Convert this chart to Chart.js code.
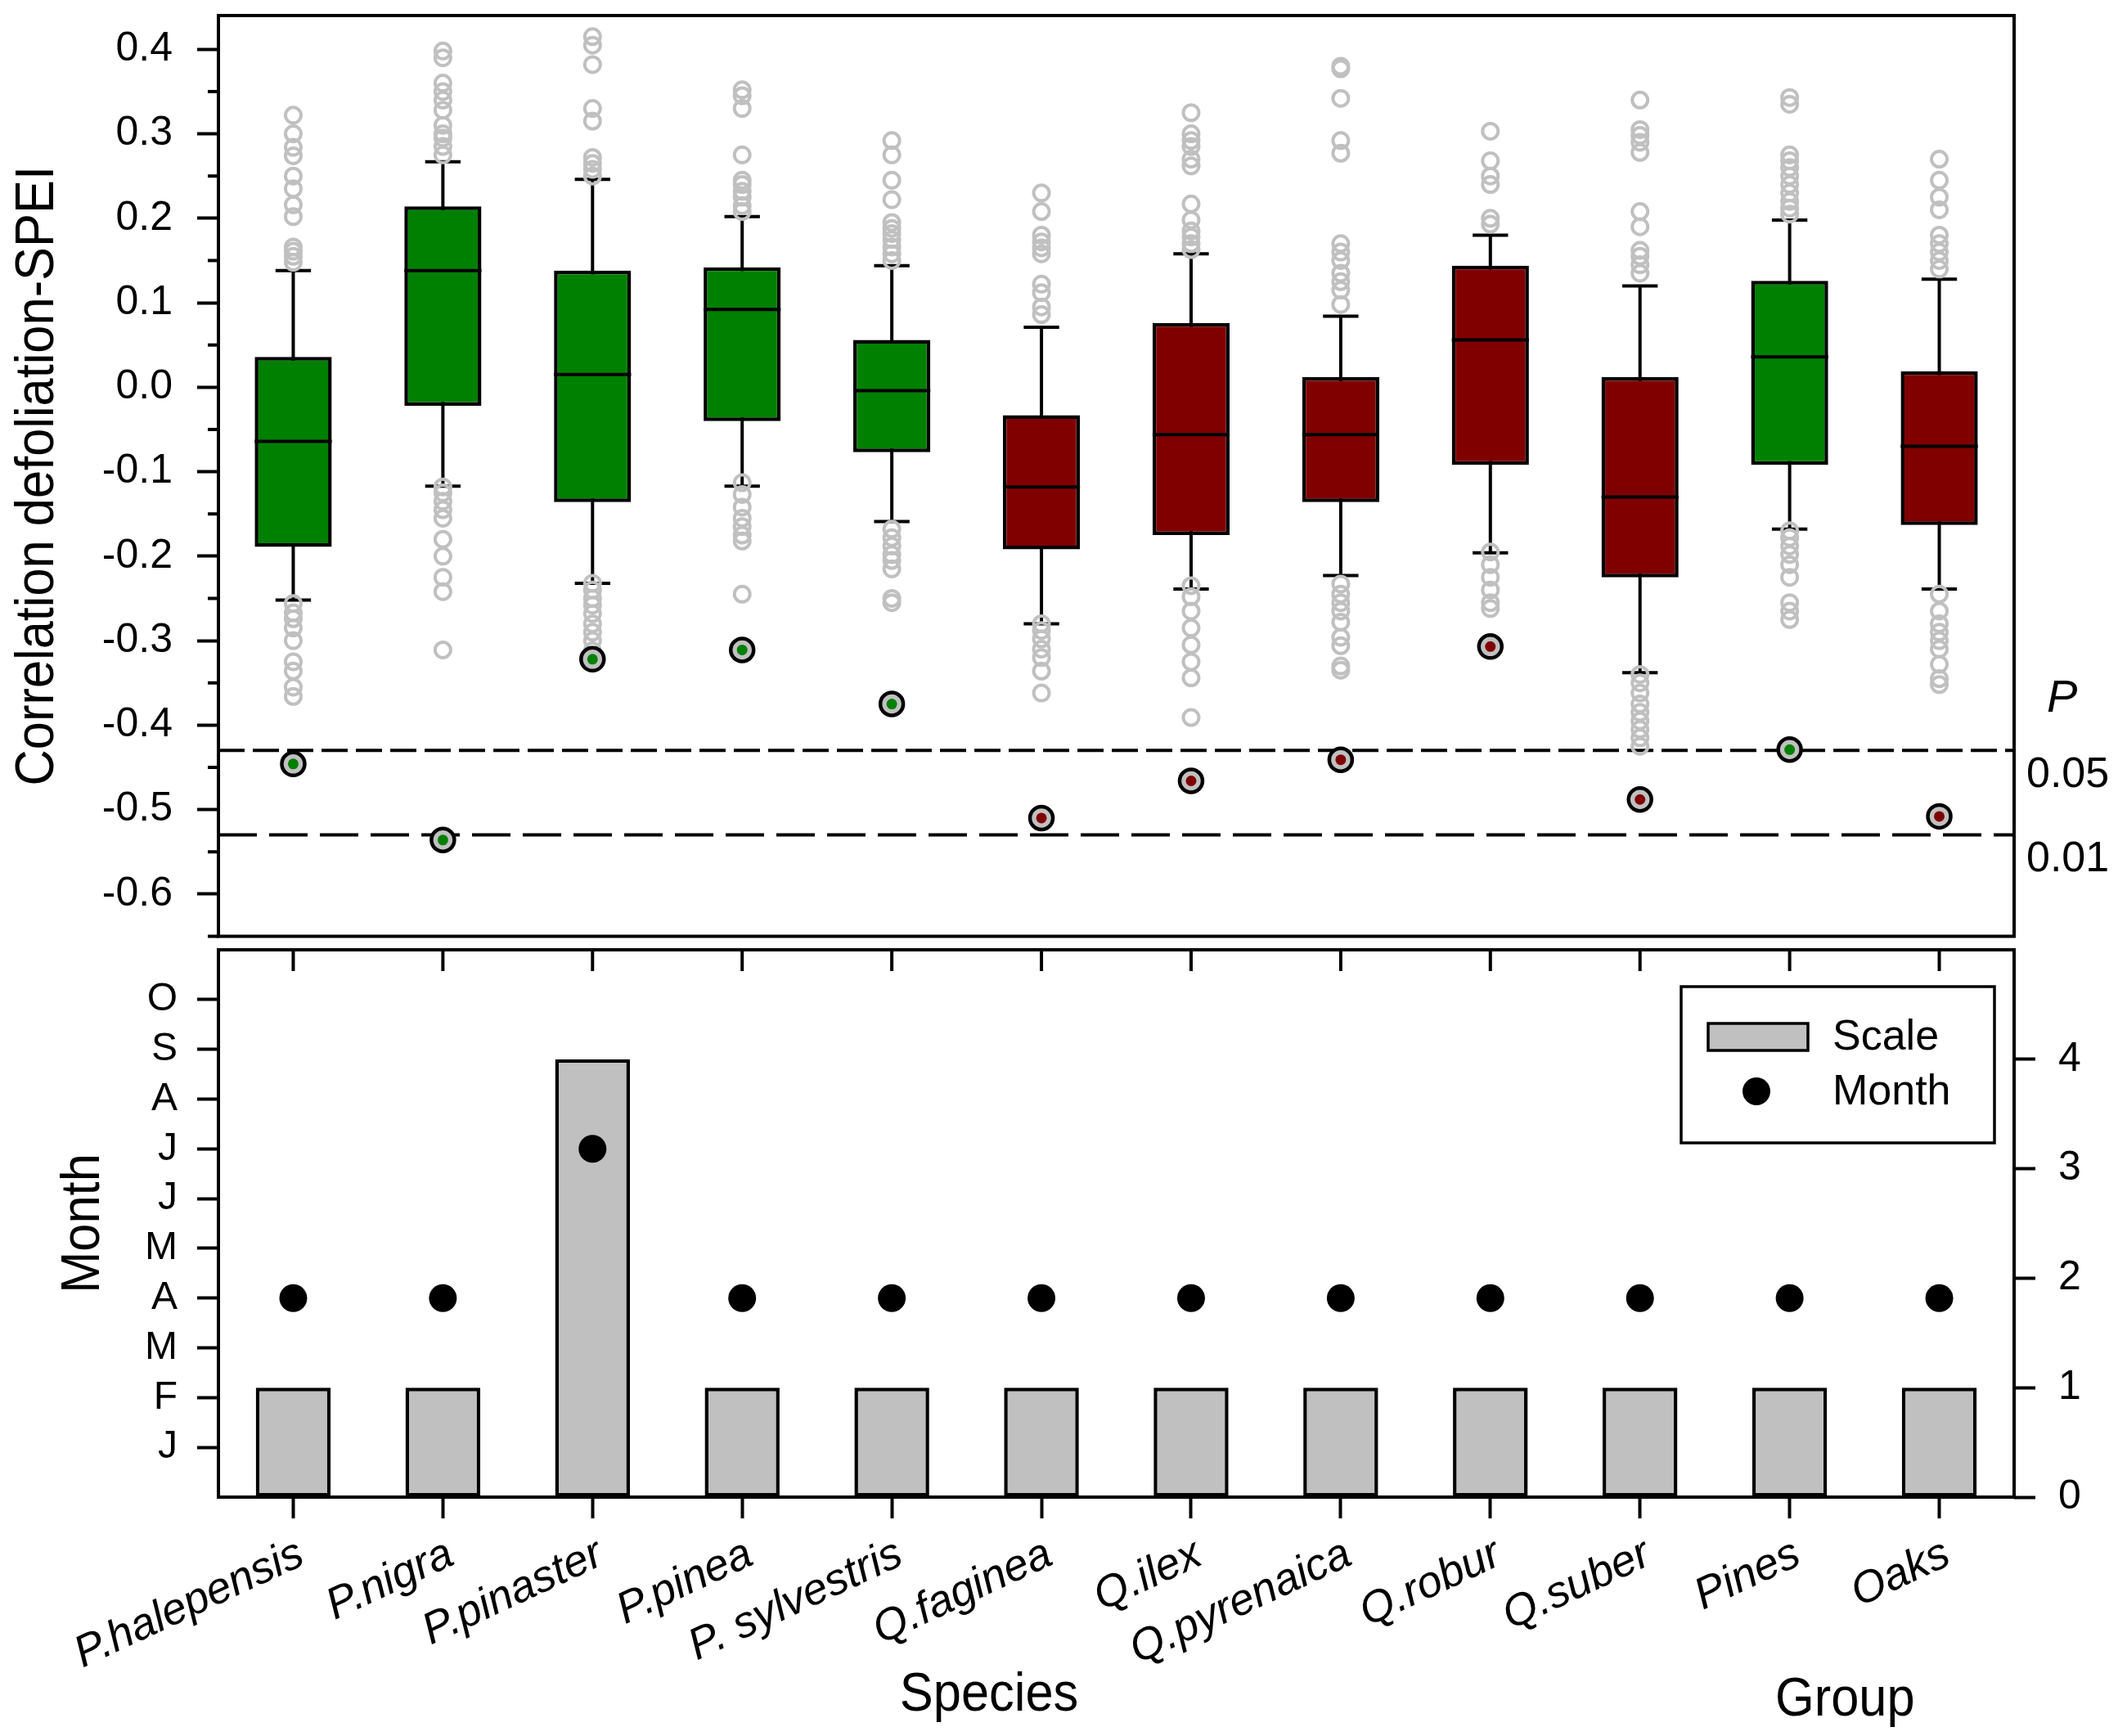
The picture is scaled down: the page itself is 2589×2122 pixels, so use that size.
<!DOCTYPE html>
<html>
<head>
<meta charset="utf-8">
<script src="https://cdn.jsdelivr.net/npm/chart.js"></script>
<style>
  html, body { margin: 0; padding: 0; background: #fff; overflow: hidden; }
  #wrap { position: relative; width: 2589px; height: 2122px; background: #fff; }
  canvas { position: absolute; left: 0; }
  #topChart { top: 0; }
  #bottomChart { top: 1140px; }
</style>
</head>
<body>
<div id="wrap">
  <canvas id="topChart" width="2589" height="1163"></canvas>
  <canvas id="bottomChart" width="2589" height="982"></canvas>
</div>
<script>
// categories
const SPECIES = ['P.halepensis', 'P.nigra', 'P.pinaster', 'P.pinea', 'P. sylvestris', 'Q.faginea',
                 'Q.ilex', 'Q.pyrenaica', 'Q.robur', 'Q.suber', 'Pines', 'Oaks'];
const GENUS = ['pine', 'pine', 'pine', 'pine', 'pine', 'oak', 'oak', 'oak', 'oak', 'oak', 'pine', 'oak'];

// box plot statistics (correlation defoliation-SPEI)
const WHISKER_LOW  = [-0.252, -0.117, -0.232, -0.117, -0.159, -0.280, -0.239, -0.223, -0.196, -0.338, -0.168, -0.239];
const QUART_1      = [-0.189, -0.022, -0.136, -0.040, -0.077, -0.192, -0.175, -0.136, -0.092, -0.225, -0.092, -0.163];
const MEDIAN       = [-0.064,  0.138,  0.015,  0.092, -0.004, -0.118, -0.056, -0.056,  0.056, -0.130,  0.036, -0.070];
const QUART_3      = [ 0.036,  0.214,  0.138,  0.142,  0.056, -0.033,  0.076,  0.012,  0.144,  0.012,  0.126,  0.019];
const WHISKER_HIGH = [ 0.138,  0.267,  0.246,  0.202,  0.144,  0.071,  0.158,  0.084,  0.180,  0.120,  0.198,  0.128];
// strongest correlation (highlighted point)
const MIN_CORR     = [-0.446, -0.536, -0.322, -0.311, -0.375, -0.510, -0.466, -0.441, -0.307, -0.488, -0.429, -0.508];

// outliers above / below the whiskers
const OUT_HIGH = [
  [0.322, 0.300, 0.284, 0.274, 0.250, 0.235, 0.216, 0.202, 0.166, 0.161, 0.155, 0.148],
  [0.398, 0.390, 0.360, 0.350, 0.340, 0.328, 0.310, 0.300, 0.295, 0.285, 0.275],
  [0.415, 0.405, 0.382, 0.330, 0.315, 0.272, 0.265, 0.258, 0.250],
  [0.352, 0.345, 0.330, 0.275, 0.245, 0.240, 0.232, 0.225, 0.215, 0.208],
  [0.292, 0.275, 0.245, 0.222, 0.195, 0.188, 0.182, 0.175, 0.166, 0.158, 0.150],
  [0.230, 0.208, 0.180, 0.172, 0.165, 0.158, 0.122, 0.112, 0.095, 0.086],
  [0.325, 0.300, 0.292, 0.285, 0.270, 0.262, 0.217, 0.198, 0.185, 0.178, 0.170, 0.163],
  [0.380, 0.377, 0.342, 0.292, 0.277, 0.170, 0.160, 0.150, 0.135, 0.125, 0.115, 0.098],
  [0.303, 0.268, 0.250, 0.240, 0.200, 0.193],
  [0.340, 0.305, 0.298, 0.290, 0.278, 0.208, 0.190, 0.162, 0.155, 0.145, 0.135],
  [0.343, 0.335, 0.275, 0.268, 0.260, 0.250, 0.240, 0.230, 0.220, 0.212, 0.205],
  [0.270, 0.245, 0.225, 0.210, 0.180, 0.170, 0.160, 0.150, 0.140]
];
const OUT_LOW = [
  [-0.256, -0.267, -0.274, -0.285, -0.300, -0.325, -0.336, -0.355, -0.366],
  [-0.118, -0.125, -0.135, -0.145, -0.155, -0.180, -0.200, -0.225, -0.242, -0.311],
  [-0.232, -0.240, -0.250, -0.258, -0.268, -0.280, -0.290, -0.300, -0.312],
  [-0.113, -0.127, -0.142, -0.155, -0.165, -0.175, -0.182, -0.245],
  [-0.168, -0.178, -0.188, -0.198, -0.205, -0.215, -0.250, -0.255],
  [-0.280, -0.288, -0.298, -0.310, -0.320, -0.336, -0.362],
  [-0.235, -0.248, -0.265, -0.285, -0.305, -0.325, -0.344, -0.391],
  [-0.233, -0.245, -0.255, -0.265, -0.278, -0.296, -0.306, -0.330, -0.335],
  [-0.195, -0.210, -0.225, -0.240, -0.255, -0.262],
  [-0.340, -0.350, -0.362, -0.375, -0.385, -0.395, -0.405, -0.415, -0.425],
  [-0.170, -0.178, -0.188, -0.198, -0.210, -0.225, -0.255, -0.265, -0.275],
  [-0.245, -0.265, -0.280, -0.290, -0.300, -0.310, -0.328, -0.345, -0.352]
];

// significance thresholds
const P_LEVELS = [-0.43, -0.53];
const P_LABELS = ['0.05', '0.01'];

// lower panel
const MONTH_LABELS = ['J', 'F', 'M', 'A', 'M', 'J', 'J', 'A', 'S', 'O'];
const MONTH = [4, 4, 7, 4, 4, 4, 4, 4, 4, 4, 4, 4];
const SCALE = [1, 1, 4, 1, 1, 1, 1, 1, 1, 1, 1, 1];

const FILL = { pine: '#008000', oak: '#800000' };
const GREY = '#c0c0c0';
const FONT = '"Liberation Sans", Arial, Helvetica, sans-serif';
const LW = 4;

Chart.defaults.font.family = FONT;
Chart.defaults.color = '#000';

function drawText(ctx, str, x, y, size, opts = {}) {
  ctx.save();
  ctx.translate(x, y);
  if (opts.rotate) ctx.rotate(opts.rotate);
  if (opts.squeeze) ctx.scale(opts.squeeze, 1);
  ctx.font = (opts.italic ? 'italic ' : '') + size + 'px ' + FONT;
  ctx.fillStyle = '#000';
  ctx.textAlign = opts.align || 'center';
  ctx.textBaseline = 'middle';
  ctx.fillText(str, 0, 0);
  ctx.restore();
}

function line(ctx, x1, y1, x2, y2) {
  ctx.beginPath();
  ctx.moveTo(x1, y1);
  ctx.lineTo(x2, y2);
  ctx.stroke();
}

function drawFrame(chart) {
  const { ctx, chartArea: a } = chart;
  ctx.save();
  ctx.strokeStyle = '#000';
  ctx.lineWidth = LW;
  ctx.strokeRect(a.left, a.top, a.right - a.left, a.bottom - a.top);
  ctx.restore();
}

// ---------- upper panel: box plots ----------
const boxPlugin = {
  id: 'boxParts',
  beforeDatasetsDraw(chart) {
    const { ctx, chartArea: a, scales: { x, y } } = chart;
    ctx.save();
    ctx.strokeStyle = '#000';
    ctx.lineWidth = LW;
    // dashed significance lines
    P_LEVELS.forEach((p, k) => {
      ctx.setLineDash(k === 0 ? [32, 10] : [47, 15]);
      const py = y.getPixelForValue(p);
      line(ctx, a.left, py, a.right, py);
    });
    ctx.setLineDash([]);
    // whiskers and caps
    const bars = chart.getDatasetMeta(0).data;
    SPECIES.forEach((s, i) => {
      const px = x.getPixelForValue(i);
      const cap = bars[i].width * 0.23;
      const lo = y.getPixelForValue(WHISKER_LOW[i]);
      const hi = y.getPixelForValue(WHISKER_HIGH[i]);
      line(ctx, px, lo, px, hi);
      line(ctx, px - cap, lo, px + cap, lo);
      line(ctx, px - cap, hi, px + cap, hi);
    });
    ctx.restore();
  },
  afterDatasetDraw(chart, args) {
    if (args.index !== 0) return;
    const { ctx, scales: { y } } = chart;
    const bars = chart.getDatasetMeta(0).data;
    ctx.save();
    ctx.strokeStyle = '#000';
    ctx.lineWidth = LW;
    SPECIES.forEach((s, i) => {
      const b = bars[i];
      const py = y.getPixelForValue(MEDIAN[i]);
      line(ctx, b.x - b.width / 2, py, b.x + b.width / 2, py);
    });
    ctx.restore();
  },
  afterDraw(chart) {
    const { ctx, chartArea: a, scales: { y } } = chart;
    drawFrame(chart);
    // minor ticks halfway between labelled ticks
    ctx.save();
    ctx.strokeStyle = '#000';
    ctx.lineWidth = LW;
    y.ticks.forEach(t => {
      const v = t.value - 0.05;
      if (v >= y.min - 1e-9) {
        const py = y.getPixelForValue(v);
        line(ctx, a.left - 13, py, a.left, py);
      }
    });
    ctx.restore();
    drawText(ctx, 'Correlation defoliation-SPEI', 47, (a.top + a.bottom) / 2, 66,
             { rotate: -Math.PI / 2, squeeze: 0.93 });
    // P labels on the right
    drawText(ctx, 'P', a.right + 40, y.getPixelForValue(P_LEVELS[0]) - 63, 56, { italic: true, align: 'left' });
    P_LEVELS.forEach((p, k) => {
      drawText(ctx, P_LABELS[k], a.right + 15, y.getPixelForValue(p) + 30, 52, { align: 'left' });
    });
  }
};

const outlierPoints = [];
SPECIES.forEach((s, i) => {
  OUT_HIGH[i].concat(OUT_LOW[i]).forEach(v => outlierPoints.push({ x: s, y: v }));
});
const minPoints = MIN_CORR.map((v, i) => ({ x: SPECIES[i], y: v }));
const fills = GENUS.map(g => FILL[g]);

new Chart(document.getElementById('topChart'), {
  type: 'bar',
  data: {
    labels: SPECIES,
    datasets: [
      {
        label: 'Interquartile range',
        data: SPECIES.map((s, i) => [QUART_1[i], QUART_3[i]]),
        backgroundColor: fills,
        borderColor: '#000',
        borderWidth: 4.5,
        borderSkipped: false,
        barPercentage: 0.515,
        categoryPercentage: 1,
        order: 3
      },
      {
        type: 'scatter',
        label: 'Outliers',
        data: outlierPoints,
        pointRadius: 9.5,
        pointBorderWidth: 4,
        pointBorderColor: GREY,
        pointBackgroundColor: 'rgba(0,0,0,0)',
        order: 2
      },
      {
        type: 'scatter',
        label: 'Strongest correlation (ring)',
        data: minPoints,
        pointRadius: 14,
        pointBorderWidth: 4.5,
        pointBorderColor: '#000',
        pointBackgroundColor: GREY,
        order: 1
      },
      {
        type: 'scatter',
        label: 'Strongest correlation',
        data: minPoints,
        pointRadius: 6.5,
        pointBorderWidth: 0,
        pointBackgroundColor: fills,
        order: 0
      }
    ]
  },
  options: {
    responsive: false,
    devicePixelRatio: 1,
    animation: false,
    events: [],
    layout: { padding: { top: 19, right: 127, bottom: 2, left: 0 } },
    plugins: { legend: { display: false }, tooltip: { enabled: false } },
    scales: {
      x: { display: false, offset: true },
      y: {
        min: -0.65,
        max: 0.44,
        border: { display: false },
        grid: { drawOnChartArea: false, tickLength: 26, tickWidth: LW, tickColor: '#000' },
        ticks: {
          stepSize: 0.1,
          includeBounds: false,
          padding: 30,
          font: { size: 50 },
          color: '#000',
          callback: v => v.toFixed(1)
        },
        afterFit(s) { s.width = 267; s.paddingTop = 0; s.paddingBottom = 0; }
      }
    }
  },
  plugins: [boxPlugin]
});

// ---------- lower panel: scale bars and month dots ----------
const lowerPlugin = {
  id: 'lowerParts',
  afterDraw(chart) {
    const { ctx, chartArea: a, scales: { x } } = chart;
    drawFrame(chart);
    ctx.save();
    ctx.strokeStyle = '#000';
    ctx.lineWidth = LW;
    SPECIES.forEach((s, i) => {
      const px = x.getPixelForValue(i);
      line(ctx, px, a.top, px, a.top + 26);
    });
    ctx.restore();

    // legend
    const w = 383, h = 191;
    const x0 = a.right - 24 - w, y0 = a.top + 45;
    const scaleDs = chart.data.datasets.find(d => d.label === 'Scale');
    const monthDs = chart.data.datasets.find(d => d.label === 'Month');
    ctx.save();
    ctx.fillStyle = '#fff';
    ctx.fillRect(x0, y0, w, h);
    ctx.strokeStyle = '#000';
    ctx.lineWidth = 3.5;
    ctx.strokeRect(x0, y0, w, h);
    ctx.fillStyle = scaleDs.backgroundColor;
    ctx.fillRect(x0 + 33, y0 + 45, 122, 33);
    ctx.strokeRect(x0 + 33, y0 + 45, 122, 33);
    ctx.fillStyle = monthDs.pointBackgroundColor;
    ctx.beginPath();
    ctx.arc(x0 + 92, y0 + 128, monthDs.pointRadius, 0, Math.PI * 2);
    ctx.fill();
    ctx.restore();
    drawText(ctx, scaleDs.label, x0 + 185, y0 + 63, 52, { align: 'left' });
    drawText(ctx, monthDs.label, x0 + 185, y0 + 130, 52, { align: 'left' });

    // axis titles
    drawText(ctx, 'Month', 103, (a.top + a.bottom) / 2, 66, { rotate: -Math.PI / 2, squeeze: 0.93 });
    drawText(ctx, 'Species', x.getPixelForValue(4.65), a.bottom + 243, 66, { squeeze: 0.93 });
    drawText(ctx, 'Group', x.getPixelForValue(10.37), a.bottom + 249, 66, { squeeze: 0.93 });
  }
};

new Chart(document.getElementById('bottomChart'), {
  type: 'bar',
  data: {
    labels: SPECIES,
    datasets: [
      {
        type: 'line',
        label: 'Month',
        data: MONTH,
        yAxisID: 'yM',
        showLine: false,
        pointRadius: 17,
        pointBorderWidth: 0,
        pointBackgroundColor: '#000',
        order: 0
      },
      {
        type: 'bar',
        label: 'Scale',
        data: SCALE,
        yAxisID: 'yS',
        backgroundColor: GREY,
        borderColor: '#000',
        borderWidth: 4.5,
        borderSkipped: false,
        barPercentage: 0.5,
        categoryPercentage: 1,
        order: 1
      }
    ]
  },
  options: {
    responsive: false,
    devicePixelRatio: 1,
    animation: false,
    events: [],
    layout: { padding: { top: 21, right: 0, bottom: 0, left: 0 } },
    plugins: { legend: { display: false }, tooltip: { enabled: false } },
    scales: {
      x: {
        offset: true,
        border: { display: false },
        grid: { offset: false, drawOnChartArea: false, tickLength: 26, tickWidth: LW, tickColor: '#000' },
        ticks: {
          autoSkip: false,
          minRotation: 25,
          maxRotation: 25,
          padding: 12,
          labelOffset: 10,
          color: '#000',
          font: { size: 54, style: 'italic' }
        },
        afterFit(s) { s.height = 292; s.paddingLeft = 0; s.paddingRight = 0; }
      },
      yM: {
        position: 'left',
        min: 0,
        max: 11,
        border: { display: false },
        grid: { drawOnChartArea: false, tickLength: 26, tickWidth: LW, tickColor: '#000' },
        afterBuildTicks(s) { s.ticks = MONTH_LABELS.map((m, i) => ({ value: i + 1 })); },
        ticks: {
          padding: 24,
          color: '#000',
          font: { size: 48 },
          callback: v => MONTH_LABELS[v - 1]
        },
        afterFit(s) { s.width = 267; s.paddingTop = 0; s.paddingBottom = 0; }
      },
      yS: {
        position: 'right',
        min: 0,
        max: 5,
        border: { display: false },
        grid: { drawOnChartArea: false, tickLength: 26, tickWidth: LW, tickColor: '#000' },
        afterBuildTicks(s) { s.ticks = s.ticks.filter(t => t.value <= 4); },
        ticks: {
          stepSize: 1,
          padding: 28,
          color: '#000',
          font: { size: 50 }
        },
        afterFit(s) { s.width = 127; s.paddingTop = 0; s.paddingBottom = 0; }
      }
    }
  },
  plugins: [lowerPlugin]
});
</script>
</body>
</html>
